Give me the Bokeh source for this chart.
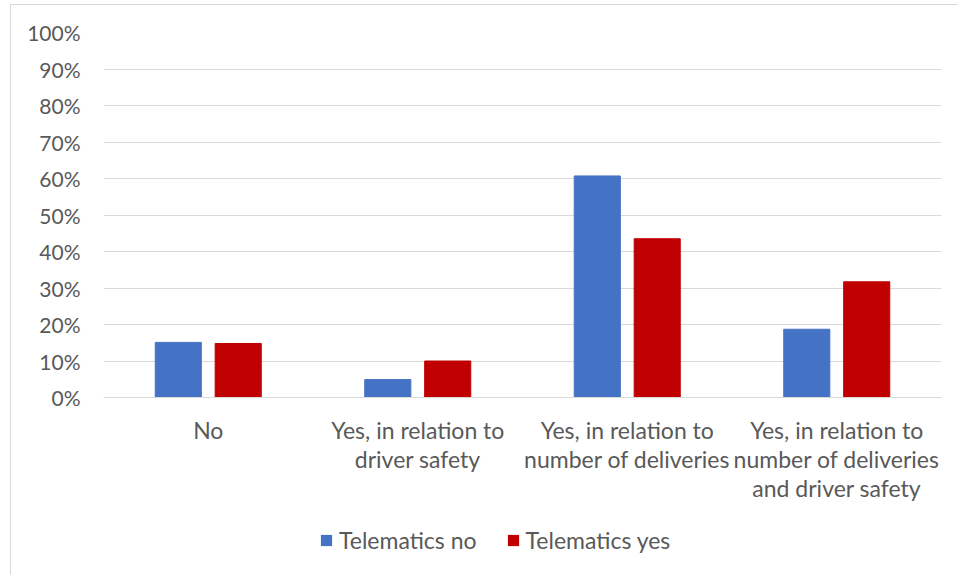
from bokeh.plotting import figure
from bokeh.layouts import column
from bokeh.models import Range1d, FactorRange, Legend, LegendItem, NumeralTickFormatter, FixedTicker, ColumnDataSource
from bokeh.transform import dodge
from bokeh.embed import file_html
from bokeh.resources import INLINE

categories = [
    "No",
    "Yes, in relation to\ndriver safety",
    "Yes, in relation to\nnumber of deliveries",
    "Yes, in relation to\nnumber of deliveries\nand driver safety",
]
telematics_no = [0.151, 0.049, 0.607, 0.187]
telematics_yes = [0.148, 0.100, 0.435, 0.317]
series_names = ["Telematics no", "Telematics yes"]
series_colors = ["#4472C4", "#C00000"]
y_ticks = [0.0, 0.1, 0.2, 0.3, 0.4, 0.5, 0.6, 0.7, 0.8, 0.9, 1.0]

FONT = "Lato"
TXT = "#595959"
GRID = "#d9d9d9"

src = ColumnDataSource(dict(cat=categories, no=telematics_no, yes=telematics_yes))

p = figure(
    x_range=FactorRange(factors=categories, range_padding=0),
    y_range=Range1d(0, 1),
    width=948, height=511,
    output_backend="svg", toolbar_location=None,
    min_border_left=92, min_border_right=18, min_border_top=27, min_border_bottom=119,
)
p.outline_line_color = None

p.vbar(x=dodge("cat", -0.143, range=p.x_range), top="no", width=0.22, source=src,
       fill_color=series_colors[0], line_color=series_colors[0])
p.vbar(x=dodge("cat", 0.143, range=p.x_range), top="yes", width=0.22, source=src,
       fill_color=series_colors[1], line_color=series_colors[1])

p.xgrid.grid_line_color = None
p.ygrid.grid_line_color = GRID
p.ygrid.grid_line_width = 1
p.yaxis.ticker = FixedTicker(ticks=y_ticks)
p.yaxis.formatter = NumeralTickFormatter(format="0%")
p.yaxis.axis_line_color = None
p.yaxis.major_tick_line_color = None
p.yaxis.minor_tick_line_color = None
p.yaxis.major_label_standoff = 17
p.xaxis.axis_line_color = GRID
p.xaxis.major_tick_line_color = None
p.xaxis.minor_tick_line_color = None
p.xaxis.major_label_standoff = 12
p.xaxis.major_label_text_font_size = "23px"
p.xaxis.major_label_text_line_height = 1.05
p.yaxis.major_label_text_font_size = "21px"
for ax in (p.xaxis, p.yaxis):
    ax.major_label_text_font = FONT
    ax.major_label_text_color = TXT

# legend strip
p2 = figure(
    x_range=Range1d(0, 1), y_range=Range1d(0, 1),
    width=948, height=59,
    output_backend="svg", toolbar_location=None,
    min_border_left=0, min_border_right=0, min_border_top=0, min_border_bottom=0,
)
p2.axis.visible = False
p2.grid.grid_line_color = None
p2.outline_line_color = None
stub = ColumnDataSource(dict(x=[0], top=[0]))
lr = [p2.vbar(x="x", top="top", width=0, source=stub, fill_color=c, line_color=c, line_width=0)
      for c in series_colors]
legend = Legend(items=[LegendItem(label=n, renderers=[r], index=0) for n, r in zip(series_names, lr)],
                orientation="horizontal", location=(216, 21))
legend.label_text_font = FONT
legend.label_text_font_size = "23px"
legend.label_text_color = TXT
legend.glyph_width = 14
legend.glyph_height = 14
legend.label_standoff = 6
legend.spacing = 29
legend.padding = 0
legend.margin = 0
legend.border_line_color = None
legend.background_fill_alpha = 0
p2.add_layout(legend, "center")

layout = column(p, p2, spacing=0)
layout.styles = {"margin-left": "10px", "margin-top": "4px",
                 "border-left": "1px solid #d9d9d9", "border-top": "1px solid #d9d9d9"}

open("out.html", "w").write(file_html(layout, INLINE))
